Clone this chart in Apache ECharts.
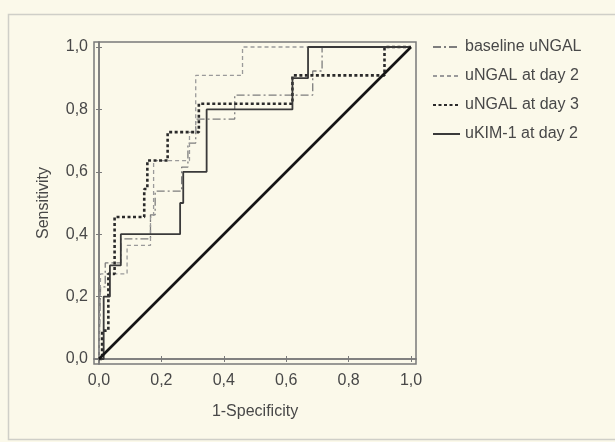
<!DOCTYPE html>
<html><head><meta charset="utf-8">
<script src="https://cdn.jsdelivr.net/npm/echarts@6/dist/echarts.min.js"></script>
<style>html,body{margin:0;padding:0;background:#fbf9ea;}#c{width:615px;height:442px;}</style>
</head><body><div id="c"></div>
<script>
const seriesNames = ['baseline uNGAL','uNGAL at day 2','uNGAL at day 3','uKIM-1 at day 2'];
const tickValues = [0,0.2,0.4,0.6,0.8,1.0];
const tickLabels = ['0,0','0,2','0,4','0,6','0,8','1,0'];
const baseFpr = [0,0.005,0.02,0.07,0.165,0.18,0.265,0.285,0.31,0.435,0.685,0.715,1];
const baseTpr = [0,0.231,0.308,0.385,0.462,0.538,0.615,0.692,0.769,0.846,0.923,1,1];
const d2Fpr = [0,0.005,0.09,0.165,0.175,0.29,0.31,0.46,1];
const d2Tpr = [0,0.273,0.364,0.455,0.636,0.727,0.909,1,1];
const d3Fpr = [0,0.01,0.03,0.05,0.145,0.155,0.22,0.32,0.62,0.915,1];
const d3Tpr = [0,0.091,0.273,0.455,0.545,0.636,0.727,0.818,0.909,1,1];
const kimFpr = [0,0.015,0.035,0.07,0.26,0.27,0.345,0.62,0.67,1];
const kimTpr = [0,0.2,0.3,0.4,0.5,0.6,0.8,0.9,1,1];
const refFpr = [0,1];
const refTpr = [0,1];

const zip = (a,b)=>a.map((v,i)=>[v,b[i]]);
const fmt = v => { const i = tickValues.findIndex(t=>Math.abs(t-v)<1e-6); return i>=0 ? tickLabels[i] : ''; };
const font = 'Liberation Sans, Arial, sans-serif';
const txt = '#484848';
const ax = {
  type:'value', min:-0.016, max:1.016,
  axisLine:{show:true, lineStyle:{color:'#7a7a7a', width:1.5}},
  axisTick:{show:true, inside:true, length:3, customValues:tickValues, lineStyle:{color:'#7a7a7a'}},
  axisLabel:{customValues:tickValues, formatter:fmt, color:txt, fontSize:16, fontFamily:font},
  splitLine:{show:false}
};
const chart = echarts.init(document.getElementById('c'), null, {renderer:'canvas'});
chart.setOption({
  backgroundColor:'#fbf9ea',
  animation:false,
  graphic:[{type:'rect', shape:{x:8.5,y:14.5,width:640,height:425}, style:{fill:'none', stroke:'#cfcfc8', lineWidth:1.5}, z:-1}],
  grid:{left:94, top:42, width:322, height:322, show:true, borderColor:'#7a7a7a', borderWidth:1.5, backgroundColor:'transparent'},
  xAxis:[Object.assign({}, ax, {name:'1-Specificity', nameLocation:'middle', nameGap:40,
      nameTextStyle:{color:txt, fontSize:16, fontFamily:font}, axisLabel:Object.assign({}, ax.axisLabel, {margin:9})}),
    Object.assign({}, ax, {position:'top', axisLabel:{show:false}})],
  yAxis:[Object.assign({}, ax, {name:'Sensitivity', nameLocation:'middle', nameGap:42, nameRotate:90,
      nameTextStyle:{color:txt, fontSize:16, fontFamily:font}, axisLabel:Object.assign({}, ax.axisLabel, {margin:6})}),
    Object.assign({}, ax, {position:'right', axisLabel:{show:false}})],
  legend:{orient:'vertical', left:427, top:34, itemWidth:27, itemHeight:14, itemGap:13,
    itemStyle:{color:'rgba(0,0,0,0)', borderWidth:0, opacity:0},
    data:seriesNames, textStyle:{color:txt, fontSize:16, fontFamily:font}},
  series:[
    {name:seriesNames[0], type:'line', step:'end', symbol:'none', data:zip(baseFpr,baseTpr),
      lineStyle:{color:'#7d7d7d', width:1.3, type:[8,3,2,3]}, itemStyle:{color:'#7d7d7d'}, z:3},
    {name:seriesNames[1], type:'line', step:'end', symbol:'none', data:zip(d2Fpr,d2Tpr),
      lineStyle:{color:'#9a9a9a', width:1.3, type:[4,3]}, itemStyle:{color:'#9a9a9a'}, z:3},
    {name:seriesNames[2], type:'line', step:'end', symbol:'none', data:zip(d3Fpr,d3Tpr),
      lineStyle:{color:'#2a2a2a', width:2.6, type:[3,2.5]}, itemStyle:{color:'#2a2a2a'}, z:4},
    {name:seriesNames[3], type:'line', step:'end', symbol:'none', data:zip(kimFpr,kimTpr),
      lineStyle:{color:'#3a3a3a', width:1.8}, itemStyle:{color:'#3a3a3a'}, z:5},
    {name:'reference', type:'line', symbol:'none', data:zip(refFpr,refTpr),
      lineStyle:{color:'#151515', width:2.6}, itemStyle:{color:'#151515'}, z:6}
  ]
});
</script></body></html>
